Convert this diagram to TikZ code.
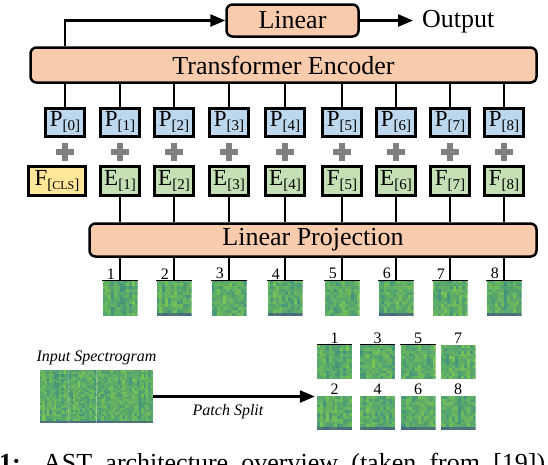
\documentclass[tikz,border=0pt]{standalone}
\usepackage{fontspec}
\setmainfont{Liberation Serif}
\usetikzlibrary{arrows.meta}

\definecolor{peach}{HTML}{F8CBAD}
\definecolor{tokblue}{HTML}{BDD7EE}
\definecolor{tokgreen}{HTML}{C5E0B4}
\definecolor{tokyellow}{HTML}{FFE699}
\definecolor{spteal}{HTML}{2B7F8E}
\definecolor{spgreen}{HTML}{8ED645}
\definecolor{spblue}{HTML}{3E4A89}

\NewDocumentCommand{\tokl}{mm}{#1\raisebox{-4pt}{\fontsize{15}{15}\selectfont #2}}

\NewDocumentCommand{\specpatch}{mmmmmmO{0}}{%
\begin{scope}[shift={(#2,#3)}]%chktex 36
\clip (-#4/2,-#5/2) rectangle (#4/2,#5/2);%chktex 8
\pgfmathsetseed{#6}%
\foreach \i in {0,...,11} {%
\pgfmathsetmacro{\colv}{rnd}%
\foreach \j in {0,...,11} {%
\pgfmathtruncatemacro{\pct}{100*(0.2+0.65*(0.4*\colv+0.6*rnd))}%
\pgfmathtruncatemacro{\keep}{100-(\j==11)*#7}%
\fill[spgreen!\pct!spteal!\keep!spblue] (-#4/2+\i*#4/12,-#5/2+\j*#5/12) rectangle ++(#4/12+0.4,#5/12+0.4);%chktex 8
}}%
\end{scope}%
\node[minimum width=#4, minimum height=#5, inner sep=0pt] (#1) at (#2,#3) {};%chktex 1
}

\begin{document}
\begin{tikzpicture}[x=1pt, y=-1pt,
    block/.style={draw, line width=2.5pt, rounded corners=6pt, fill=peach, inner sep=0pt,
        font=\fontsize{26}{26}\selectfont},
    tok/.style={draw, line width=3pt, minimum width=39, minimum height=28, inner sep=0pt,
        font=\fontsize{23}{23}\selectfont},
    wire/.style={line width=2.5pt},
    arr/.style={wire, -{Triangle[length=15pt,width=12pt]}},
    plus/.style={line width=5.5pt, draw=gray},
    num/.style={font=\fontsize{16}{16}\selectfont, inner sep=1pt},
    lab/.style={font=\fontsize{16}{16}\selectfont\itshape, inner sep=0pt}]
    \useasboundingbox (0,0) rectangle (548,464);

    % Top
    \node[block, minimum width=132, minimum height=32] (lin) at (292.5,20.5) {Linear};
    \node[font=\fontsize{26}{26}\selectfont, inner sep=0pt, anchor=base west] (out) at (422,27) {Output};
    \node[block, minimum width=506, minimum height=35] (enc) at (283.5,65) {Transformer Encoder};
    \draw[arr] (lin.east) -- (lin.east -| out.west) [shorten >=9pt];

    % Tokens
    \foreach \i/\x in {0/65,1/120,2/174,3/229,4/285,5/342,6/396,7/450,8/504} {
        \node[tok, fill=tokblue] (p\i) at (\x,122) {\tokl{P}{[\i]}};
        \draw[wire] (p\i.north) -- (p\i.north |- enc.south);
        \draw[plus] (\x-9,152) -- (\x+9,152) (\x,143) -- (\x,161);
    }
    \draw[arr] (enc.north -| p0.north) |- (lin.west);
    \node[tok, fill=tokyellow, minimum width=57, minimum height=29] (e0) at (57,181)
        {\tokl{F}{[{\fontsize{12}{12}\selectfont CLS}]}};

    % Linear projection
    \node[block, minimum width=447, minimum height=33] (proj) at (313,240) {Linear Projection};
    \foreach \i/\x/\s in {1/120/E,2/174/E,3/229/E,4/285/E,5/342/F,6/396/E,7/450/F,8/504/F} {
        \node[tok, fill=tokgreen, minimum height=29] (e\i) at (\x,181) {\tokl{\s}{[\i]}};
        \draw[wire] (e\i.south) -- (e\i.south |- proj.north);
    }

    % Patches
    \foreach \k/\x in {1/120,2/174,3/229,4/285,5/342,6/396,7/450,8/504} {
        \pgfmathtruncatemacro{\dk}{60*(1-mod(\k,2))}
        \specpatch{t\k}{\x}{298}{35}{35}{1\k}[\dk]
        \draw[line width=1pt] (t\k.north west) -- (t\k.north east);
        \draw[wire] (proj.south -| t\k.north) -- (t\k.north);
        \node[num, anchor=south east] (n\k) at ([xshift=-4pt]t\k.north) {\k};
    }

    % Input spectrogram
    \foreach \k/\x/\y in {1/54.125/383.25,2/54.125/409.75,3/82.375/383.25,4/82.375/409.75,
        5/110.625/383.25,6/110.625/409.75,7/138.875/383.25,8/138.875/409.75} {
        \pgfmathtruncatemacro{\dk}{60*(1-mod(\k,2))}
        \specpatch{s\k}{\x}{\y}{28.25}{26.5}{1\k}[\dk]
    }
    \node[minimum width=113, minimum height=53, inner sep=0pt] (spec) at (96.5,396.5) {};
    \node[lab] (speclab) at (96.5,358) {Input Spectrogram};

    % Patch grid
    \foreach \k/\x/\y in {1/334.5/362,2/334.5/413,3/377.5/362,4/377.5/413,
        5/418/362,6/418/413,7/458/362,8/458/413} {
        \pgfmathtruncatemacro{\dk}{60*(1-mod(\k,2))}
        \specpatch{g\k}{\x}{\y}{35}{34}{1\k}[\dk]
        \node[num, anchor=south] (m\k) at (g\k.north) {\k};
    }
    \foreach \k in {1,3,5} {
        \draw[line width=1pt] (g\k.north west) -- (g\k.north east);
    }
    \draw[arr, shorten >=2pt] (spec.east) -- (spec.east -| g1.west);
    \node[lab] (splitlab) at (228,412) {Patch Split};

    % Caption
    \node[font=\fontsize{26}{26}\selectfont\bfseries, inner sep=0pt, anchor=base east] (capnum) at (21,471) {Figure 1:};
    \node[font=\fontsize{26}{26}\selectfont, inner sep=0pt, anchor=base west] (cap) at (43,471)
        {\makebox[502pt][s]{AST architecture overview (taken from [19])}};
\end{tikzpicture}
\end{document}
